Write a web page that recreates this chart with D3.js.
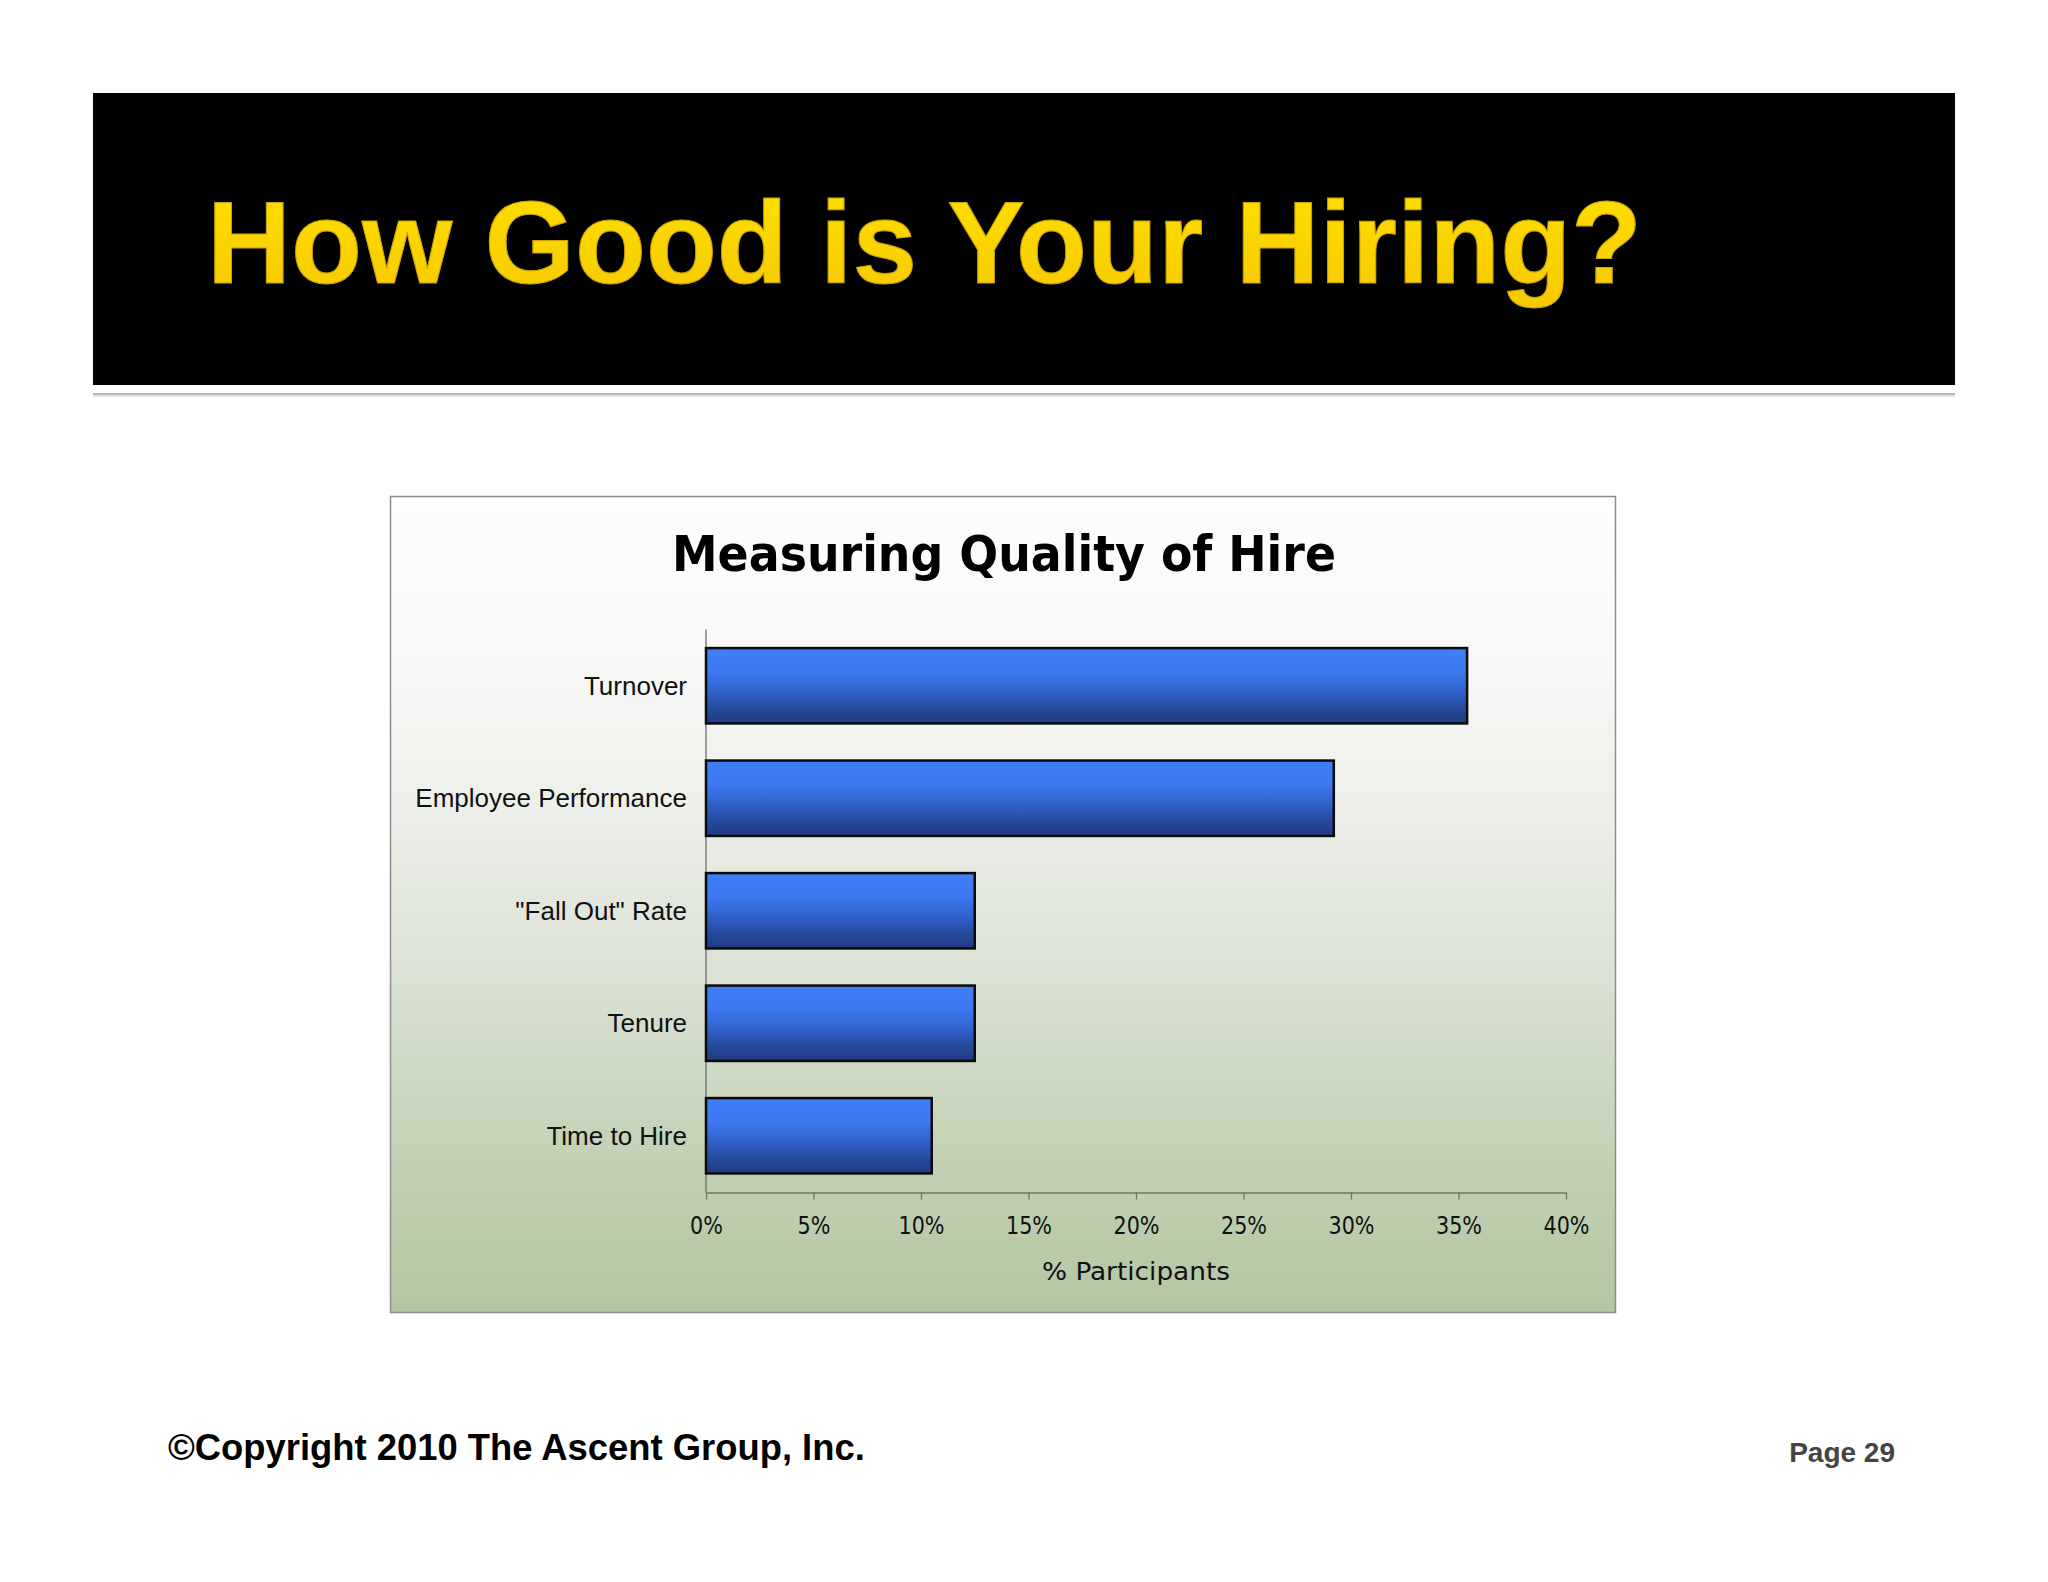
<!DOCTYPE html>
<html>
<head>
<meta charset="utf-8">
<script src="https://cdn.jsdelivr.net/npm/d3@7"></script>
<style>
  html, body { margin: 0; padding: 0; background: #ffffff; }
  svg { display: block; }
</style>
</head>
<body>
<div id="chart"></div>
<script>
// ---- data ----
const slideTitle = "How Good is Your Hiring?";
const chartTitle = "Measuring Quality of Hire";
const categories = ["Turnover", "Employee Performance", "\"Fall Out\" Rate", "Tenure", "Time to Hire"];
const values = [35.4, 29.2, 12.5, 12.5, 10.5];
const tickValues = [0, 5, 10, 15, 20, 25, 30, 35, 40];
const tickLabels = ["0%", "5%", "10%", "15%", "20%", "25%", "30%", "35%", "40%"];
const xAxisTitle = "% Participants";
const copyrightText = "\u00A9Copyright 2010 The Ascent Group, Inc.";
const pageText = "Page 29";

// ---- layout ----
const W = 2048, H = 1582;
const svg = d3.select("#chart").append("svg").attr("width", W).attr("height", H);
const defs = svg.append("defs");

svg.append("rect").attr("width", W).attr("height", H).attr("fill", "#ffffff");

// header band
const hdr = { x: 93, y: 93, w: 1862, h: 292 };
svg.append("rect").attr("x", hdr.x).attr("y", hdr.y + hdr.h + 8).attr("width", hdr.w).attr("height", 2).attr("fill", "#b9b9b9");
svg.append("rect").attr("x", hdr.x).attr("y", hdr.y + hdr.h + 10).attr("width", hdr.w).attr("height", 2).attr("fill", "#e4e4e4");
svg.append("rect").attr("x", hdr.x).attr("y", hdr.y).attr("width", hdr.w).attr("height", hdr.h).attr("fill", "#000000");

const titleGrad = defs.append("linearGradient").attr("id", "titleGrad").attr("x1", 0).attr("y1", 0).attr("x2", 0).attr("y2", 1);
titleGrad.append("stop").attr("offset", "0%").attr("stop-color", "#ffe000");
titleGrad.append("stop").attr("offset", "100%").attr("stop-color", "#f7c800");

svg.append("text")
  .attr("x", 207).attr("y", 283)
  .attr("font-family", "'Liberation Sans', Arial, sans-serif")
  .attr("font-weight", "bold")
  .attr("font-size", 116.2)
  .attr("fill", "url(#titleGrad)")
  .attr("stroke", "#c9a200").attr("stroke-width", 1)
  .text(slideTitle);

// chart box
const box = { x: 390.5, y: 496.5, w: 1225, h: 816 };
const bgGrad = defs.append("linearGradient").attr("id", "bgGrad").attr("x1", 0).attr("y1", 0).attr("x2", 0).attr("y2", 1);
[["0%", "#fdfdfd"], ["20%", "#f8f9f7"], ["40%", "#eceee9"], ["60%", "#d9e1d2"], ["80%", "#c3d2b6"], ["100%", "#b3c6a1"]]
  .forEach(s => bgGrad.append("stop").attr("offset", s[0]).attr("stop-color", s[1]));
svg.append("rect").attr("x", box.x).attr("y", box.y).attr("width", box.w).attr("height", box.h)
  .attr("fill", "url(#bgGrad)").attr("stroke", "#8c8c8c").attr("stroke-width", 1.5);

const tahoma = "'DejaVu Sans Condensed', 'DejaVu Sans', Verdana, sans-serif";

svg.append("text")
  .attr("x", 672).attr("y", 571)
  .attr("font-family", tahoma).attr("font-weight", "bold").attr("font-size", 50)
  .attr("fill", "#000")
  .attr("textLength", 664).attr("lengthAdjust", "spacingAndGlyphs")
  .text(chartTitle);

// scales
const x = d3.scaleLinear().domain([0, 40]).range([706, 1566]);
const y = d3.scaleBand().domain(categories).range([629.5, 1192]).paddingInner(0.33).paddingOuter(0.165);

// bar gradient
const barGrad = defs.append("linearGradient").attr("id", "barGrad").attr("x1", 0).attr("y1", 0).attr("x2", 0).attr("y2", 1);
[["0%", "#3f7ef6"], ["30%", "#3d7af2"], ["55%", "#3264d0"], ["80%", "#254a9c"], ["100%", "#1f3b82"]]
  .forEach(s => barGrad.append("stop").attr("offset", s[0]).attr("stop-color", s[1]));

// y axis line
svg.append("line").attr("x1", x(0)).attr("x2", x(0)).attr("y1", 629.5).attr("y2", 1192.5)
  .attr("stroke", "#6e6e6e").attr("stroke-width", 1.3);

// bars
svg.append("g").selectAll("rect").data(categories).join("rect")
  .attr("x", x(0))
  .attr("y", d => y(d))
  .attr("width", (d, i) => x(values[i]) - x(0))
  .attr("height", y.bandwidth())
  .attr("fill", "url(#barGrad)")
  .attr("stroke", "#0b0b0b").attr("stroke-width", 2.5);

// category labels
svg.append("g").selectAll("text").data(categories).join("text")
  .attr("x", 687)
  .attr("y", d => y(d) + y.bandwidth() / 2)
  .attr("dy", "0.35em")
  .attr("text-anchor", "end")
  .attr("font-family", "'Liberation Sans', Arial, sans-serif")
  .attr("font-size", 26)
  .attr("fill", "#111")
  .text(d => d);

// x axis
const xAxis = d3.axisBottom(x).tickValues(tickValues).tickFormat((d, i) => tickLabels[i]).tickSize(7).tickSizeOuter(0).tickPadding(17);
const gx = svg.append("g").attr("transform", "translate(0,1192.5)").call(xAxis);
gx.select(".domain").attr("stroke", "#6e7a66").attr("stroke-width", 1.5);
gx.selectAll(".tick line").attr("stroke", "#6e7a66").attr("stroke-width", 1.3);
gx.selectAll(".tick text")
  .attr("font-family", tahoma).attr("font-size", 25).attr("fill", "#111")
  .each(function () {
    const t = d3.select(this);
    const w = this.getComputedTextLength();
    t.attr("textLength", w * 0.92).attr("lengthAdjust", "spacingAndGlyphs");
  });

svg.append("text")
  .attr("x", x(20)).attr("y", 1280)
  .attr("text-anchor", "middle")
  .attr("font-family", tahoma).attr("font-size", 25).attr("fill", "#111")
  .attr("textLength", 188).attr("lengthAdjust", "spacingAndGlyphs")
  .text(xAxisTitle);

// footer
svg.append("text")
  .attr("x", 168).attr("y", 1460)
  .attr("font-family", "'Liberation Sans', Arial, sans-serif")
  .attr("font-weight", "bold").attr("font-size", 36.4).attr("fill", "#000")
  .text(copyrightText);

svg.append("text")
  .attr("x", 1895).attr("y", 1462)
  .attr("text-anchor", "end")
  .attr("font-family", "'Liberation Sans', Arial, sans-serif")
  .attr("font-weight", "bold").attr("font-size", 28).attr("fill", "#444")
  .text(pageText);
</script>
</body>
</html>
